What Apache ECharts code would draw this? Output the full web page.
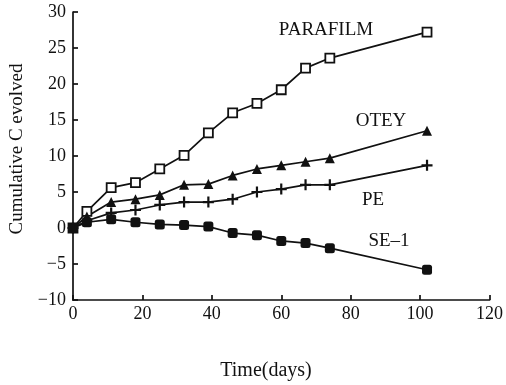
<!DOCTYPE html>
<html>
<head>
<meta charset="utf-8">
<script src="https://cdn.jsdelivr.net/npm/echarts@6/dist/echarts.min.js"></script>
<style>
  html, body { margin: 0; padding: 0; background: #fff; }
  #chart { width: 506px; height: 385px; }
</style>
</head>
<body>
<div id="chart"></div>
<script>
// Sampling days (weekly after the first reading)
const days = [0, 4, 11, 18, 25, 32, 39, 46, 53, 60, 67, 74, 102]

// Cumulative C evolved per treatment
const parafilm = [0, 2.3, 5.6, 6.3, 8.2, 10.1, 13.2, 16.0, 17.3, 19.2, 22.2, 23.6, 27.2]
const otey = [0, 1.6, 3.6, 4.0, 4.6, 6.0, 6.1, 7.3, 8.2, 8.7, 9.2, 9.7, 13.5]
const pe = [0, 1.0, 2.1, 2.5, 3.2, 3.6, 3.6, 4.0, 5.0, 5.4, 6.0, 6.0, 8.7]
const se1 = [0, 0.8, 1.2, 0.8, 0.5, 0.4, 0.2, -0.7, -1.0, -1.8, -2.1, -2.8, -5.8]

const xTicks = [0, 20, 40, 60, 80, 100, 120]
const yTicks = [-10, -5, 0, 5, 10, 15, 20, 25, 30]

const font = '"Liberation Serif", "DejaVu Serif", serif'
const ink = '#111'

const pair = (ys) => days.map((d, i) => [d, ys[i]])

const plusPath = 'path://M4,0 L6,0 L6,4 L10,4 L10,6 L6,6 L6,10 L4,10 L4,6 L0,6 L0,4 L4,4 Z'

function line(name, ys, symbol, size, fill) {
  return {
    name,
    type: 'line',
    data: pair(ys),
    symbol,
    symbolSize: size,
    showAllSymbol: true,
    lineStyle: { color: ink, width: 1.7 },
    itemStyle: { color: fill, borderColor: ink, borderWidth: fill === '#fff' ? 1.8 : 0 },
    z: 3,
  }
}

// free text label, centred on (x, y)
function note(text, x, y, size, rotation) {
  return {
    type: 'text',
    x,
    y,
    rotation: rotation || 0,
    style: {
      text,
      font: size + 'px ' + font,
      fill: ink,
      align: 'center',
      verticalAlign: 'middle',
      textAlign: 'center',
      textVerticalAlign: 'middle',
    },
  }
}

const chart = echarts.init(document.getElementById('chart'))

const axisCommon = {
  axisLine: { show: true, onZero: false, lineStyle: { color: ink, width: 1.7 } },
  axisTick: { show: true, inside: true, length: 5, lineStyle: { color: ink, width: 1.7 } },
  splitLine: { show: false },
  axisLabel: { color: ink, fontFamily: font, fontSize: 18 },
}

chart.setOption({
  animation: false,
  backgroundColor: '#fff',
  textStyle: { fontFamily: font },
  grid: { left: 73, top: 12, width: 420, height: 288 },
  xAxis: {
    ...axisCommon,
    type: 'value',
    min: xTicks[0],
    max: xTicks[xTicks.length - 1],
    interval: 20,
    axisLabel: { ...axisCommon.axisLabel, margin: 5 },
  },
  yAxis: {
    ...axisCommon,
    type: 'value',
    min: yTicks[0],
    max: yTicks[yTicks.length - 1],
    interval: 5,
    axisLabel: {
      ...axisCommon.axisLabel,
      margin: 7,
      formatter: (v) => (v < 0 ? '\u2212' + Math.abs(v) : String(v)),
    },
  },
  series: [
    line('PARAFILM', parafilm, 'rect', 9, '#fff'),
    line('OTEY', otey, 'triangle', 10, ink),
    line('PE', pe, plusPath, 11, ink),
    line('SE-1', se1, 'roundRect', 10, ink),
  ],
  graphic: [
    note('Time(days)', 266, 371, 20),
    note('Cumulative C evolved', 17, 149, 19, Math.PI / 2),
    note('PARAFILM', 326, 30, 19),
    note('OTEY', 381, 121, 19),
    note('PE', 373, 200, 19),
    note('SE\u20131', 389, 241, 19),
  ],
})
</script>
</body>
</html>
